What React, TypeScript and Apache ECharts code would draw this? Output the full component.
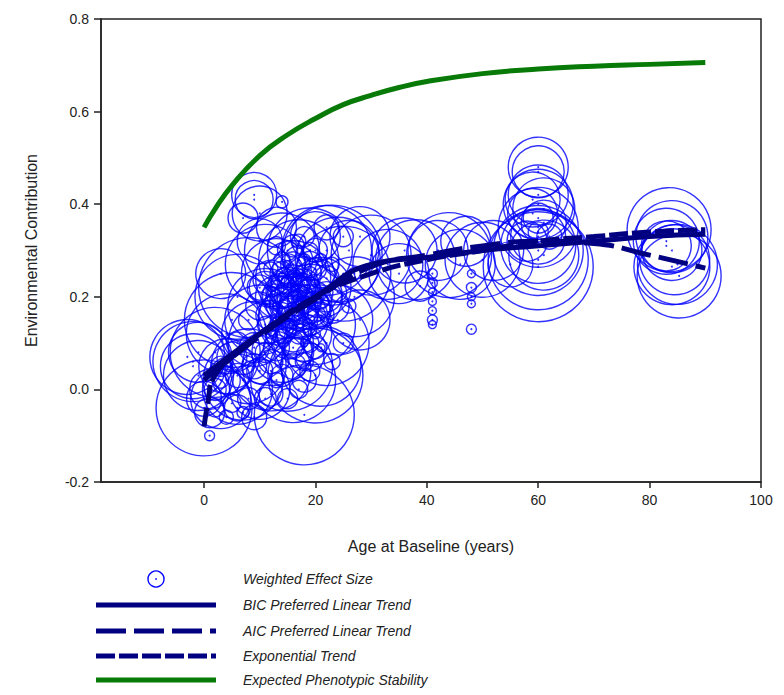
import React, { useEffect, useRef } from "react";
import * as echarts from "echarts";

// [age, effect, weight]
const clusterYoung: number[][] = [
  [0, -0.04, 96], [18, -0.055, 100], [-2, 0.06, 80], [-1, 0.03, 70], [2, 0.08, 90],
  [5, 0.15, 95], [8, 0.22, 100], [23, 0.29, 100], [25, 0.25, 95], [20, 0.03, 95],
  [15, 0.05, 90], [12, 0.1, 85], [27, 0.2, 80], [22, 0.1, 85], [7, 0.02, 80],
  [3, -0.02, 60], [17, 0.28, 80], [13, 0.25, 70], [26, 0.3, 60], [20, 0.33, 50],
  [4, 0.05, 55], [1, 0.0, 40], [0, -0.02, 35], [1, -0.05, 30], [1, -0.1, 10],
  [10, 0.0, 60], [9, 0.12, 65], [11, 0.18, 75], [16, 0.15, 70], [19, 0.2, 65],
  [14, 0.08, 60], [21, 0.22, 60], [18, 0.12, 55], [24, 0.15, 70], [28, 0.15, 60],
  [3, 0.25, 50], [10, 0.32, 45], [13, 0.35, 40], [7, 0.37, 30], [9, -0.06, 25],
  [9, 0.42, 45], [9, 0.41, 38], [10, 0.38, 55], [14, 0.405, 12],
  [-3, 0.07, 75], [-2, 0.05, 65], [-1, 0.08, 60], [6, 0.0, 70], [8, 0.05, 75],
  [12, 0.04, 80], [16, 0.02, 85], [21, 0.05, 80], [14, 0.3, 75], [19, 0.3, 85],
  [22, 0.3, 90], [24, 0.28, 85], [11, 0.27, 80], [6, 0.2, 85], [4, 0.12, 80],
  [16, 0.24, 75], [20, 0.14, 80], [10, 0.15, 70],
];
const clusterDense: number[][] = [
  [12, 0.2, 20], [13, 0.22, 15], [14, 0.18, 25], [15, 0.24, 18], [16, 0.2, 12],
  [17, 0.22, 22], [18, 0.18, 16], [19, 0.25, 14], [20, 0.16, 20], [15, 0.13, 18],
  [16, 0.27, 25], [14, 0.28, 16], [13, 0.15, 12], [17, 0.12, 20], [18, 0.28, 12],
  [19, 0.1, 18], [21, 0.19, 15], [20, 0.26, 22], [12, 0.26, 14], [11, 0.14, 16],
  [16, 0.09, 22], [14, 0.06, 14], [18, 0.06, 18], [22, 0.15, 12], [15, 0.3, 20],
  [17, 0.32, 14], [13, 0.31, 18], [19, 0.3, 16], [21, 0.28, 12], [16, 0.17, 30],
  [18, 0.23, 28], [14, 0.21, 32], [15, 0.19, 36], [17, 0.17, 40], [16, 0.22, 45],
  [20, 0.21, 35], [12, 0.16, 30], [22, 0.24, 25], [10, 0.22, 25], [11, 0.08, 20],
  [13, 0.02, 15], [15, -0.02, 20], [9, 0.05, 25], [8, 0.15, 20], [6, 0.1, 22],
  [5, -0.03, 18], [3, 0.02, 16], [4, -0.06, 14], [7, -0.05, 12], [11, -0.02, 22],
  [17, 0.0, 18], [19, 0.04, 20], [23, 0.06, 16], [25, 0.1, 20], [26, 0.18, 14],
  [24, 0.21, 18], [23, 0.27, 14], [27, 0.25, 12], [25, 0.33, 20], [22, 0.35, 25],
  [15, 0.16, 10], [16, 0.14, 8], [17, 0.25, 10], [18, 0.2, 8], [14, 0.24, 10],
  [19, 0.15, 10], [13, 0.18, 8], [20, 0.12, 10], [21, 0.09, 8], [12, 0.12, 10],
  [15, 0.2, 50], [16, 0.19, 55], [17, 0.2, 48], [18, 0.17, 52], [14, 0.16, 46],
  [15, 0.22, 40], [19, 0.19, 44], [17, 0.15, 38], [13, 0.2, 42], [16, 0.12, 36],
  [18, 0.25, 34], [20, 0.18, 30], [14, 0.13, 28], [21, 0.16, 26], [15, 0.1, 32],
  [17, 0.08, 30], [13, 0.09, 26], [19, 0.07, 28], [12, 0.06, 24], [16, 0.05, 26],
  [14, 0.03, 22], [18, 0.02, 24], [20, 0.09, 22], [22, 0.2, 30], [23, 0.18, 34],
  [11, 0.22, 32], [12, 0.24, 36], [15, 0.26, 30], [17, 0.28, 28], [19, 0.27, 26],
  [14, 0.25, 24], [16, 0.31, 22], [18, 0.33, 20], [20, 0.3, 24], [21, 0.25, 28],
  [10, 0.18, 28], [9, 0.09, 30], [7, 0.06, 26], [6, 0.03, 24], [8, -0.02, 22],
  [10, 0.04, 26], [12, -0.01, 24], [5, 0.07, 30], [4, 0.02, 28], [2, 0.0, 22],
  [3, 0.05, 20], [2, -0.04, 18], [6, -0.04, 26], [13, 0.12, 22], [16, 0.23, 18],
  [17, 0.19, 14], [15, 0.14, 12], [18, 0.14, 16], [14, 0.11, 18], [19, 0.22, 20],
  [15.5, 0.18, 6], [16.5, 0.21, 6], [14.5, 0.2, 7], [17.5, 0.16, 7], [18.5, 0.22, 6],
  [13.5, 0.17, 6], [16, 0.25, 7], [19.5, 0.18, 6], [15, 0.27, 7], [17, 0.24, 6],
  [14, 0.14, 8], [18, 0.1, 7], [20, 0.23, 8], [21, 0.2, 6], [12.5, 0.22, 7],
  [16, 0.16, 14], [17, 0.21, 16], [15, 0.23, 14], [18, 0.19, 12], [19, 0.13, 14],
];
const clusterMid: number[][] = [
  [33, 0.27, 70], [38, 0.28, 80], [44, 0.29, 85], [50, 0.28, 75], [52, 0.3, 60],
  [47, 0.32, 50], [42, 0.3, 60], [28, 0.33, 60], [35, 0.25, 60], [55, 0.27, 45],
  [38.8, 0.223, 30], [30, 0.29, 80], [36, 0.3, 65], [46, 0.27, 70],
  [41, 0.25, 10], [41, 0.23, 10], [41, 0.21, 8], [41, 0.19, 8], [41, 0.17, 8], [41, 0.15, 10], [41, 0.14, 8],
  [48, 0.25, 8], [48, 0.22, 10], [48, 0.2, 8], [48, 0.185, 8], [48, 0.13, 10],
];
const clusterSixty: number[][] = [
  [60, 0.48, 60], [60, 0.47, 52], [60, 0.42, 60], [60, 0.4, 70], [59, 0.38, 50],
  [61, 0.36, 45], [60, 0.35, 80], [60, 0.33, 55], [60, 0.3, 90], [60, 0.28, 100],
  [60, 0.265, 110], [61, 0.29, 70], [58, 0.32, 40], [60, 0.37, 30], [60, 0.34, 20],
  [62, 0.33, 25], [59, 0.41, 55], [61, 0.39, 62], [60, 0.31, 75],
];
const clusterOld: number[][] = [
  [83.5, 0.345, 84], [84, 0.33, 72], [83, 0.32, 66], [84, 0.3, 60], [84.5, 0.28, 70],
  [85, 0.27, 80], [85.3, 0.245, 84], [84, 0.265, 76], [83, 0.31, 50],
];

const bicTrend: number[][] = [
  [0, 0.03], [10, 0.12], [20, 0.2], [30, 0.27], [40, 0.285], [50, 0.3],
  [60, 0.31], [70, 0.32], [80, 0.33], [90, 0.335],
];
const aicTrend: number[][] = [
  [0, 0.02], [10, 0.115], [20, 0.195], [30, 0.265], [40, 0.29], [50, 0.31],
  [60, 0.32], [70, 0.315], [80, 0.29], [90, 0.262],
];
const expTrend: number[][] = [
  [0, -0.08], [0.8, -0.02], [1.5, 0.02], [5, 0.07], [10, 0.12], [20, 0.2],
  [30, 0.25], [40, 0.28], [50, 0.3], [60, 0.32], [70, 0.33], [80, 0.34], [90, 0.345],
];
const stability: number[][] = [
  [0, 0.35], [2, 0.39], [5, 0.44], [10, 0.505], [15, 0.55], [20, 0.585],
  [25, 0.615], [30, 0.635], [35, 0.652], [40, 0.665], [50, 0.682], [60, 0.692],
  [70, 0.698], [80, 0.702], [90, 0.706],
];

const xTicks = [0, 20, 40, 60, 80, 100];
const legendNames = [
  "Weighted Effect Size",
  "BIC Preferred Linear Trend",
  "AIC Preferred Linear Trend",
  "Exponential Trend",
  "Expected Phenotypic Stability",
];

const points = [...clusterYoung, ...clusterDense, ...clusterMid, ...clusterSixty, ...clusterOld];

export default function App() {
  const ref = useRef<HTMLDivElement>(null);
  useEffect(() => {
    if (!ref.current) return;
    const chart = echarts.init(ref.current, undefined, { renderer: "svg" });
    const FONT = "Liberation Sans, Arial, sans-serif";
    const BLUE = "#0000ff";
    const NAVY = "#000080";
    const GREEN = "#077a07";
    const rows = [579, 605, 631, 656, 680];
    const legendGraphics: any[] = [];
    legendGraphics.push({
      type: "circle", shape: { cx: 156, cy: rows[0], r: 8 },
      style: { fill: "none", stroke: BLUE, lineWidth: 1.4 },
    });
    legendGraphics.push({
      type: "circle", shape: { cx: 156, cy: rows[0], r: 0.8 },
      style: { fill: BLUE },
    });
    legendGraphics.push({
      type: "line", shape: { x1: 96, y1: rows[1], x2: 216, y2: rows[1] },
      style: { stroke: NAVY, lineWidth: 5 },
    });
    legendGraphics.push({
      type: "line", shape: { x1: 96, y1: rows[2], x2: 216, y2: rows[2] },
      style: { stroke: NAVY, lineWidth: 5, lineDash: [30, 8] },
    });
    legendGraphics.push({
      type: "line", shape: { x1: 96, y1: rows[3], x2: 216, y2: rows[3] },
      style: { stroke: NAVY, lineWidth: 5, lineDash: [19, 4] },
    });
    legendGraphics.push({
      type: "line", shape: { x1: 96, y1: rows[4], x2: 216, y2: rows[4] },
      style: { stroke: GREEN, lineWidth: 5 },
    });
    legendNames.forEach((n, i) => {
      legendGraphics.push({
        type: "text", x: 243, y: rows[i],
        style: {
          text: n, fill: "#222", font: `italic 14px ${FONT}`,
          verticalAlign: "middle",
        },
      });
    });

    const lineSeries = (data: number[][], color: string, dash: any, width: number) => ({
      type: "line",
      data,
      symbol: "none",
      smooth: true,
      z: 5,
      lineStyle: { color, width, type: dash, cap: "butt" },
      silent: true,
    });

    chart.setOption({
      animation: false,
      backgroundColor: "#fff",
      textStyle: { fontFamily: FONT },
      grid: {
        left: 101, top: 19, right: 23, bottom: 213,
        show: true, borderColor: "#222", borderWidth: 1.5, backgroundColor: "transparent",
      },
      xAxis: {
        type: "value",
        min: -18.5,
        max: 100,
        name: "Age at Baseline (years)",
        nameLocation: "middle",
        nameGap: 56,
        nameTextStyle: { fontSize: 16, color: "#222", fontFamily: FONT },
        splitLine: { show: false },
        axisLine: { show: true, onZero: false, lineStyle: { color: "#222", width: 1.5 } },
        axisTick: { show: true, inside: false, length: 6, customValues: xTicks, lineStyle: { color: "#222", width: 1.5 } },
        axisLabel: { customValues: xTicks, fontSize: 14, color: "#222", margin: 11, fontFamily: FONT },
      },
      yAxis: {
        type: "value",
        min: -0.2,
        max: 0.8,
        interval: 0.2,
        name: "Environmental Contribution",
        nameLocation: "middle",
        nameGap: 62,
        nameTextStyle: { fontSize: 16, color: "#222", fontFamily: FONT },
        splitLine: { show: false },
        axisLine: { show: true, onZero: false, lineStyle: { color: "#222", width: 1.5 } },
        axisTick: { show: true, inside: false, length: 7, lineStyle: { color: "#222", width: 1.5 } },
        axisLabel: {
          fontSize: 14, color: "#222", margin: 12, fontFamily: FONT,
          formatter: (v: number) => (Math.round(v * 10) / 10).toFixed(1),
        },
      },
      graphic: legendGraphics,
      series: [
        {
          type: "scatter",
          data: points,
          symbol: "circle",
          symbolSize: (v: number[]) => v[2],
          itemStyle: { color: "rgba(0,0,0,0)", borderColor: BLUE, borderWidth: 1.4 },
          z: 2,
          silent: true,
        },
        {
          type: "scatter",
          data: points,
          symbol: "circle",
          symbolSize: 2,
          itemStyle: { color: BLUE },
          z: 2,
          silent: true,
        },
        lineSeries(stability, GREEN, "solid", 5),
        lineSeries(aicTrend, NAVY, [30, 8], 5),
        lineSeries(expTrend, NAVY, [19, 4], 5),
        lineSeries(bicTrend, NAVY, "solid", 5),
      ],
    });
    return () => chart.dispose();
  }, []);
  return <div ref={ref} style={{ position: "absolute", left: 0, top: 0, width: 784, height: 695 }} />;
}
